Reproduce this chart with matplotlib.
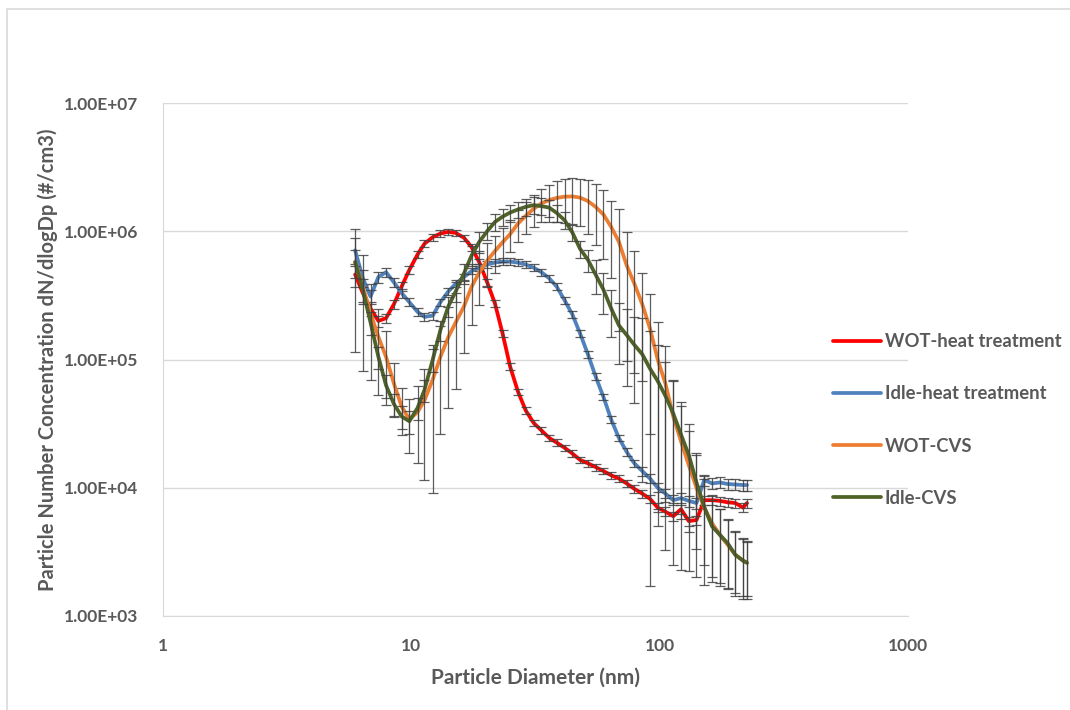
import matplotlib
matplotlib.use("Agg")
import matplotlib.pyplot as plt
from matplotlib.lines import Line2D
from matplotlib.ticker import FixedLocator, NullLocator
import numpy as np

plt.rcParams['font.family'] = ['Lato', 'DejaVu Sans']

# SMPS channel midpoints (nm)
diam = [5.94, 6.38, 6.85, 7.37, 7.91, 8.51, 9.14, 9.82, 10.6, 11.3,
        12.2, 13.1, 14.1, 15.1, 16.3, 17.5, 18.8, 20.2, 21.7, 23.3,
        25.0, 26.9, 28.9, 31.1, 33.4, 35.9, 38.5, 41.4, 44.5, 47.8,
        51.4, 55.2, 59.4, 63.8, 68.5, 73.7, 79.1, 85.1, 91.4, 98.2,
        105.5, 113.4, 121.9, 131.0, 140.7, 151.2, 162.5, 174.7, 187.7, 201.7,
        216.7, 224.7]

# dN/dlogDp (#/cm3)
wot_heat = [4.6e5, 3.3e5, 2.5e5, 2.0e5, 2.1e5, 2.7e5, 3.7e5, 5.0e5, 6.6e5, 8.0e5,
            9.0e5, 9.6e5, 9.9e5, 9.7e5, 8.9e5, 7.5e5, 5.7e5, 4.0e5, 2.75e5, 1.6e5,
            8.8e4, 5.6e4, 4.0e4, 3.2e4, 2.8e4, 2.45e4, 2.25e4, 2.05e4, 1.85e4, 1.65e4,
            1.55e4, 1.45e4, 1.35e4, 1.25e4, 1.18e4, 1.08e4, 9.8e3, 9.0e3, 8.2e3, 7.0e3,
            6.5e3, 6.0e3, 6.8e3, 5.5e3, 5.6e3, 8.0e3, 8.0e3, 7.9e3, 7.7e3, 7.6e3,
            7.0e3, 7.6e3]
idle_heat = [7.1e5, 4.3e5, 3.1e5, 4.4e5, 4.8e5, 4.0e5, 3.3e5, 2.8e5, 2.35e5, 2.15e5,
             2.2e5, 2.8e5, 3.4e5, 3.9e5, 4.4e5, 4.9e5, 5.2e5, 5.5e5, 5.7e5, 5.8e5,
             5.8e5, 5.7e5, 5.5e5, 5.2e5, 4.8e5, 4.3e5, 3.7e5, 2.9e5, 2.25e5, 1.6e5,
             1.1e5, 7.4e4, 5.1e4, 3.4e4, 2.45e4, 1.9e4, 1.55e4, 1.35e4, 1.18e4, 1.0e4,
             9.0e3, 8.0e3, 8.3e3, 7.9e3, 7.6e3, 1.15e4, 1.08e4, 1.1e4, 1.07e4, 1.06e4,
             1.05e4, 1.05e4]
wot_cvs = [5.75e5, 3.7e5, 2.3e5, 1.5e5, 1.05e5, 6.5e4, 4.3e4, 3.4e4, 3.9e4, 4.8e4,
           7.0e4, 1.05e5, 1.5e5, 1.95e5, 2.6e5, 3.7e5, 4.8e5, 5.9e5, 7.0e5, 8.2e5,
           9.5e5, 1.15e6, 1.32e6, 1.5e6, 1.65e6, 1.75e6, 1.82e6, 1.86e6, 1.87e6, 1.83e6,
           1.72e6, 1.55e6, 1.35e6, 1.08e6, 8.3e5, 5.4e5, 3.9e5, 2.7e5, 1.75e5, 1.0e5,
           6.5e4, 3.6e4, 2.3e4, 1.5e4, 1.0e4, 7.0e3, 5.3e3, 4.3e3, 3.6e3, 3.0e3,
           2.7e3, 2.6e3]
idle_cvs = [5.75e5, 3.5e5, 1.95e5, 1.05e5, 6.3e4, 4.5e4, 3.6e4, 3.3e4, 4.2e4, 5.8e4,
            1.0e5, 1.7e5, 2.6e5, 3.4e5, 4.7e5, 6.5e5, 8.3e5, 1.0e6, 1.18e6, 1.3e6,
            1.4e6, 1.48e6, 1.55e6, 1.6e6, 1.57e6, 1.53e6, 1.39e6, 1.22e6, 9.8e5, 7.3e5,
            6.0e5, 4.6e5, 3.5e5, 2.5e5, 1.85e5, 1.55e5, 1.3e5, 1.1e5, 8.5e4, 6.8e4,
            5.2e4, 3.8e4, 2.6e4, 1.8e4, 1.1e4, 7.1e3, 5.0e3, 4.3e3, 3.7e3, 3.0e3,
            2.7e3, 2.6e3]

# standard deviation as a fraction of the mean
wot_heat_sd = [0.2, 0.15, 0.12, 0.1, 0.08, 0.08, 0.08, 0.07, 0.07, 0.06,
               0.06, 0.06, 0.06, 0.06, 0.06, 0.06, 0.06, 0.06, 0.06, 0.06,
               0.06, 0.06, 0.06, 0.06, 0.06, 0.06, 0.06, 0.06, 0.06, 0.06,
               0.06, 0.06, 0.06, 0.06, 0.06, 0.06, 0.07, 0.07, 0.08, 0.08,
               0.08, 0.08, 0.08, 0.08, 0.08, 0.08, 0.08, 0.08, 0.08, 0.08,
               0.08, 0.08]
idle_heat_sd = [0.25, 0.15, 0.12, 0.1, 0.08, 0.08, 0.08, 0.07, 0.07, 0.07,
                0.07, 0.06, 0.06, 0.06, 0.06, 0.06, 0.06, 0.06, 0.06, 0.06,
                0.06, 0.06, 0.06, 0.06, 0.06, 0.06, 0.06, 0.06, 0.06, 0.06,
                0.06, 0.06, 0.06, 0.06, 0.06, 0.07, 0.07, 0.08, 0.08, 0.08,
                0.08, 0.09, 0.09, 0.1, 0.1, 0.1, 0.1, 0.1, 0.1, 0.1,
                0.1, 0.1]
wot_cvs_sd = [0.8, 0.78, 0.7, 0.65, 0.58, 0.45, 0.4, 0.45, 0.6, 0.76,
              0.87, 0.75, 0.72, 0.7, 0.57, 0.5, 0.45, 0.38, 0.32, 0.3,
              0.28, 0.28, 0.28, 0.28, 0.29, 0.32, 0.35, 0.38, 0.39, 0.4,
              0.45, 0.5, 0.55, 0.6, 0.8, 0.82, 0.8, 0.75, 0.85, 0.95,
              0.95, 0.93, 0.9, 0.85, 0.8, 0.75, 0.65, 0.6, 0.55, 0.5,
              0.47, 0.45]
idle_cvs_sd = [0.25, 0.22, 0.2, 0.2, 0.2, 0.2, 0.2, 0.2, 0.2, 0.2,
               0.2, 0.18, 0.18, 0.18, 0.18, 0.18, 0.18, 0.15, 0.15, 0.15,
               0.15, 0.15, 0.15, 0.15, 0.15, 0.15, 0.15, 0.15, 0.15, 0.15,
               0.2, 0.3, 0.35, 0.4, 0.5, 0.6, 0.65, 0.9, 0.98, 0.9,
               0.85, 0.8, 0.78, 0.75, 0.7, 0.65, 0.6, 0.58, 0.55, 0.52,
               0.5, 0.48]

labels = ['WOT-heat treatment', 'Idle-heat treatment', 'WOT-CVS', 'Idle-CVS']
colors = ['#FF0000', '#4F81BD', '#ED7D31', '#4F6228']
series = [wot_heat, idle_heat, wot_cvs, idle_cvs]
spreads = [wot_heat_sd, idle_heat_sd, wot_cvs_sd, idle_cvs_sd]

text_gray = '#595959'
grid_gray = '#D9D9D9'

fig = plt.figure(figsize=(10.7, 7.1), dpi=100)
fig.patch.set_facecolor('white')
# chart frame: only its top and left edges fall inside the image
fig.lines.append(Line2D([7 / 1070, 7 / 1070, 1.0], [0.0, 701 / 710, 701 / 710],
                        transform=fig.transFigure, color=grid_gray, lw=1.2))

ax = fig.add_axes([0.1523, 0.1324, 0.6963, 0.7225])
ax.set_xscale('log')
ax.set_yscale('log')

x = np.array(diam)
z = 3
for vals, sd, col, lab in zip(series, spreads, colors, labels):
    y = np.array(vals)
    err = y * np.array(sd)
    ax.plot(x, y, color=col, lw=2.7, label=lab, zorder=z, solid_capstyle='round')
    ax.errorbar(x, y, yerr=err, fmt='none', ecolor='#404040', elinewidth=0.9,
                capsize=3.4, capthick=0.9, alpha=0.85, zorder=z + 1)
    z += 2

ax.set_xlim(1, 1000)
ax.set_ylim(1e3, 1e7)

ax.xaxis.set_major_locator(FixedLocator([1, 10, 100, 1000]))
ax.xaxis.set_minor_locator(NullLocator())
ax.yaxis.set_major_locator(FixedLocator([1e3, 1e4, 1e5, 1e6, 1e7]))
ax.yaxis.set_minor_locator(NullLocator())
ax.set_xticklabels(['1', '10', '100', '1000'])
ax.set_yticklabels(['1.00E+03', '1.00E+04', '1.00E+05', '1.00E+06', '1.00E+07'])
ax.tick_params(axis='both', length=0, labelsize=12.5, labelcolor=text_gray)
ax.tick_params(axis='y', pad=18)
ax.tick_params(axis='x', pad=16)
for t in ax.get_xticklabels() + ax.get_yticklabels():
    t.set_fontweight('bold')

ax.grid(axis='y', color=grid_gray, lw=1.0)
ax.set_axisbelow(True)
for s in ['top', 'right']:
    ax.spines[s].set_visible(False)
ax.spines['left'].set_color(grid_gray)
ax.spines['bottom'].set_color(grid_gray)

ax.set_xlabel('Particle Diameter (nm)', fontsize=15, fontweight='bold',
              color=text_gray, labelpad=10)
ax.set_ylabel('Particle Number Concentration dN/dlogDp (#/cm3)', fontsize=14.5,
              fontweight='bold', color=text_gray, labelpad=4)

leg = fig.legend(loc='center left', bbox_to_anchor=(833 / 1070, 0.4085),
                 frameon=False, fontsize=13.3, handlelength=2.6,
                 handletextpad=0.2, labelspacing=1.9, borderpad=0,
                 borderaxespad=0)
for t in leg.get_texts():
    t.set_color(text_gray)
    t.set_fontweight('bold')

fig.savefig('out.png', dpi=100)
